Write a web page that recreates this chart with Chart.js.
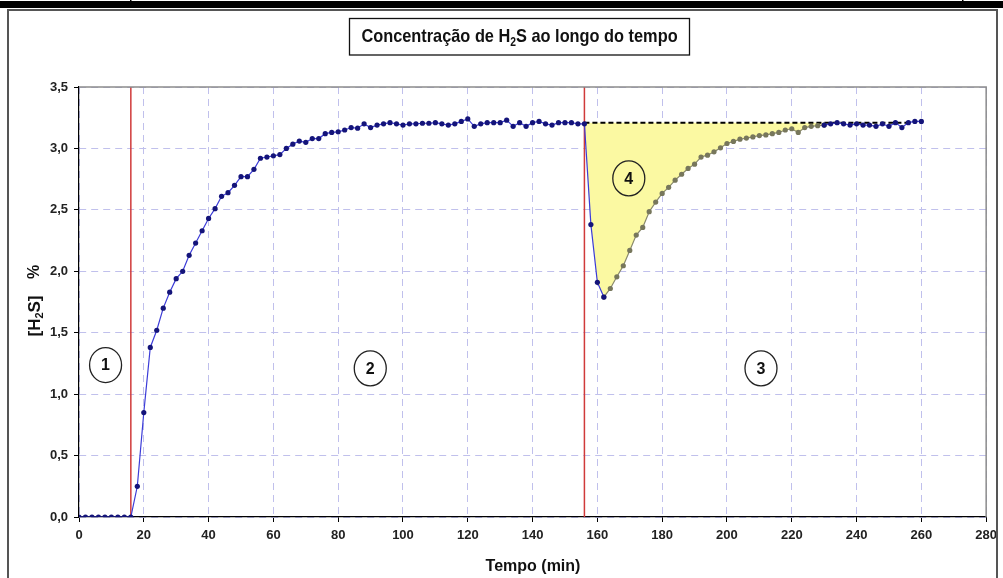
<!DOCTYPE html>
<html>
<head>
<meta charset="utf-8">
<script src="https://cdn.jsdelivr.net/npm/chart.js@4.4.1/dist/chart.umd.min.js"></script>
<style>
  html, body { margin: 0; padding: 0; background: #fff; }
  #c { display: block; }
</style>
</head>
<body>
<canvas id="c" width="1003" height="578"></canvas>
<script>
// ---------- DATA ----------
// Phase 1+2 (blue): time in minutes and H2S concentration (%)
const rampTime = [0,2,4,6,8,10,12,14,16,18,20,22,24,26,28,30,32,34,36,38,40,42,44,46,48,50,52,54,56,58,60,62,64,66,68,70,72,74,76,78,80,82,84,86,88,90,92,94,96,98,100,102,104,106,108,110,112,114,116,118,120,122,124,126,128,130,132,134,136,138,140,142,144,146,148,150,152,154,156,158,160,162];
const rampH2S  = [0,0,0,0,0,0,0,0,0,0.25,0.85,1.38,1.52,1.70,1.83,1.94,2.00,2.13,2.23,2.33,2.43,2.51,2.61,2.64,2.70,2.77,2.77,2.83,2.92,2.93,2.94,2.95,3.00,3.035,3.06,3.05,3.08,3.08,3.12,3.13,3.135,3.15,3.17,3.165,3.20,3.17,3.19,3.20,3.21,3.20,3.19,3.20,3.20,3.205,3.205,3.21,3.20,3.19,3.20,3.22,3.24,3.18,3.20,3.21,3.21,3.21,3.23,3.18,3.21,3.18,3.21,3.22,3.20,3.19,3.21,3.21,3.21,3.20,3.20,2.38,1.91,1.79];

// Recovery (olive-grey markers)
const recoveryTime = [162,164,166,168,170,172,174,176,178,180,182,184,186,188,190,192,194,196,198,200,202,204,206,208,210,212,214,216,218,220,222,224,226,228,230];
const recoveryH2S  = [1.79,1.86,1.955,2.045,2.17,2.295,2.357,2.485,2.563,2.634,2.683,2.742,2.79,2.837,2.872,2.93,2.945,2.972,3.005,3.04,3.057,3.075,3.084,3.094,3.105,3.11,3.12,3.13,3.15,3.16,3.13,3.17,3.18,3.185,3.19];

// Tail (blue)
const tailTime = [230,232,234,236,238,240,242,244,246,248,250,252,254,256,258,260];
const tailH2S  = [3.19,3.20,3.21,3.20,3.19,3.20,3.19,3.19,3.18,3.20,3.18,3.21,3.17,3.21,3.22,3.22];

// Reference level (dashed) and event lines
const baselineTime = [156, 256];
const baselineH2S  = [3.21, 3.21];
const eventTimes = [16, 156];

// Region markers
const regionLabels = ['1', '2', '3', '4'];
const regionTime   = [8.2, 89.9, 210.5, 169.7];
const regionH2S    = [1.237, 1.21, 1.21, 2.756];

// Axis ticks
const xTicks = [0,20,40,60,80,100,120,140,160,180,200,220,240,260,280];
const yTicks = [0,0.5,1.0,1.5,2.0,2.5,3.0,3.5];

// ---------- BUILD ----------
const zip = (xs, ys) => xs.map((x, i) => ({ x: x, y: ys[i] }));
const fillPts = zip(rampTime, rampH2S).filter(p => p.x >= 156)
  .concat(zip(recoveryTime, recoveryH2S).filter(p => p.x > 162));

const FONT = "'Liberation Sans', Arial, sans-serif";

// draws text parts (with optional subscript) centred at cx, horizontally condensed by hs
function drawRich(ctx, parts, cx, cy, size, hs) {
  hs = hs || 1;
  let w = 0;
  parts.forEach(p => {
    ctx.font = 'bold ' + (p.sub ? Math.round(size * 0.65) : size) + 'px ' + FONT;
    p.w = ctx.measureText(p.t).width;
    w += p.w;
  });
  ctx.save();
  ctx.translate(cx, cy);
  ctx.scale(hs, 1);
  let x = -w / 2;
  ctx.textAlign = 'left';
  ctx.textBaseline = 'middle';
  parts.forEach(p => {
    ctx.font = 'bold ' + (p.sub ? Math.round(size * 0.65) : size) + 'px ' + FONT;
    ctx.fillText(p.t, x, p.sub ? size * 0.28 : 0);
    x += p.w;
  });
  ctx.restore();
}

const decor = {
  id: 'decor',
  beforeDraw(chart) {
    const ctx = chart.ctx;
    ctx.save();
    ctx.fillStyle = '#fff';
    ctx.fillRect(0, 0, chart.width, chart.height);
    ctx.restore();
  },
  afterDraw(chart) {
    const ctx = chart.ctx;
    const a = chart.chartArea;
    const xs = chart.scales.x, ys = chart.scales.y;
    ctx.save();
    // page band at top
    ctx.fillStyle = '#000';
    ctx.fillRect(0, 1, 1003, 7);
    ctx.fillRect(130, 0, 1.5, 2);
    ctx.fillRect(962, 0, 1.5, 2);
    // outer frame
    ctx.strokeStyle = '#555';
    ctx.lineWidth = 2;
    ctx.strokeRect(8, 10, 989, 575);
    // plot top / right border
    ctx.strokeStyle = '#8c8c8c';
    ctx.lineWidth = 1.5;
    ctx.beginPath();
    ctx.moveTo(a.left, a.top);
    ctx.lineTo(a.right, a.top);
    ctx.lineTo(a.right, a.bottom);
    ctx.stroke();
    // title box
    ctx.fillStyle = '#fff';
    ctx.fillRect(349, 18, 341, 37);
    ctx.strokeStyle = '#111';
    ctx.lineWidth = 1.3;
    ctx.strokeRect(349.5, 18.5, 340, 36.5);
    ctx.fillStyle = '#111';
    drawRich(ctx, [{t:'Concentração de H'}, {t:'2', sub:true}, {t:'S ao longo do tempo'}], 519.5, 37, 19, 0.86);
    // x-axis title
    ctx.fillStyle = '#111';
    drawRich(ctx, [{t:'Tempo (min)'}], 533, 567, 16, 1);
    // y-axis title
    ctx.save();
    ctx.translate(35, 303);
    ctx.rotate(-Math.PI / 2);
    drawRich(ctx, [{t:'[H'}, {t:'2', sub:true}, {t:'S]'}], -13, 0, 17, 1);
    drawRich(ctx, [{t:'%'}], 31, 0, 16, 1);
    ctx.restore();
    // region circles
    regionLabels.forEach((lab, i) => {
      const px = xs.getPixelForValue(regionTime[i]);
      const py = ys.getPixelForValue(regionH2S[i]);
      ctx.beginPath();
      ctx.ellipse(px, py, 16, 17.5, 0, 0, Math.PI * 2);
      if (lab !== '4') { ctx.fillStyle = '#fff'; ctx.fill(); }
      ctx.strokeStyle = '#222';
      ctx.lineWidth = 1.3;
      ctx.stroke();
      ctx.fillStyle = '#111';
      ctx.font = 'bold 16px ' + FONT;
      ctx.textAlign = 'center';
      ctx.textBaseline = 'middle';
      ctx.fillText(lab, px, py + 1);
    });
    ctx.restore();
  }
};

const eventDatasets = eventTimes.map(t => ({
  type: 'line',
  data: [{x: t, y: 0}, {x: t, y: 3.5}],
  borderColor: '#d03a3a',
  borderWidth: 1.5,
  pointRadius: 0,
  fill: false,
  order: 5
}));

new Chart(document.getElementById('c'), {
  type: 'line',
  data: {
    datasets: [
      {
        data: fillPts,
        borderWidth: 0,
        borderColor: 'rgba(0,0,0,0)',
        pointRadius: 0,
        backgroundColor: '#fbf9a2',
        fill: { value: 3.21 },
        order: 10
      },
      ...eventDatasets,
      {
        data: zip(baselineTime, baselineH2S),
        borderColor: '#000',
        borderWidth: 2,
        borderDash: [5, 3],
        pointRadius: 0,
        fill: false,
        order: 4
      },
      {
        data: zip(recoveryTime, recoveryH2S),
        borderColor: '#8a8a6c',
        borderWidth: 1.2,
        pointRadius: 2.6,
        pointBackgroundColor: '#77775c',
        pointBorderWidth: 0,
        fill: false,
        order: 2
      },
      {
        data: zip(rampTime, rampH2S),
        borderColor: '#3c3cd8',
        borderWidth: 1.2,
        pointRadius: 2.6,
        pointBackgroundColor: '#14147a',
        pointBorderWidth: 0,
        fill: false,
        order: 1
      },
      {
        data: zip(tailTime, tailH2S),
        borderColor: '#3c3cd8',
        borderWidth: 1.2,
        pointRadius: 2.6,
        pointBackgroundColor: '#14147a',
        pointBorderWidth: 0,
        fill: false,
        order: 1
      }
    ]
  },
  options: {
    responsive: false,
    animation: false,
    layout: { padding: { top: 87, right: 16, left: 0, bottom: 0 } },
    plugins: { legend: { display: false }, tooltip: { enabled: false }, title: { display: false } },
    elements: { line: { tension: 0 } },
    scales: {
      x: {
        type: 'linear',
        min: 0, max: 280,
        afterBuildTicks: s => { s.ticks = xTicks.map(v => ({ value: v })); },
        afterFit: s => { s.height = 61; },
        ticks: { color: '#222', font: { family: FONT, size: 13, weight: 'bold' }, padding: 6, maxRotation: 0 },
        grid: { color: '#c0c0ec', lineWidth: 1, tickColor: '#000', tickLength: 5, drawTicks: true },
        border: { color: '#000', width: 1.2, dash: [7, 5] }
      },
      y: {
        type: 'linear',
        min: 0, max: 3.5,
        afterBuildTicks: s => { s.ticks = yTicks.map(v => ({ value: v })); },
        afterFit: s => { s.width = 79; },
        ticks: {
          color: '#222', font: { family: FONT, size: 13, weight: 'bold' }, padding: 6,
          callback: v => v.toFixed(1).replace('.', ',')
        },
        grid: { color: '#c0c0ec', lineWidth: 1, tickColor: '#000', tickLength: 5, drawTicks: true },
        border: { color: '#000', width: 1.2, dash: [7, 5] }
      }
    }
  },
  plugins: [decor]
});
</script>
</body>
</html>
